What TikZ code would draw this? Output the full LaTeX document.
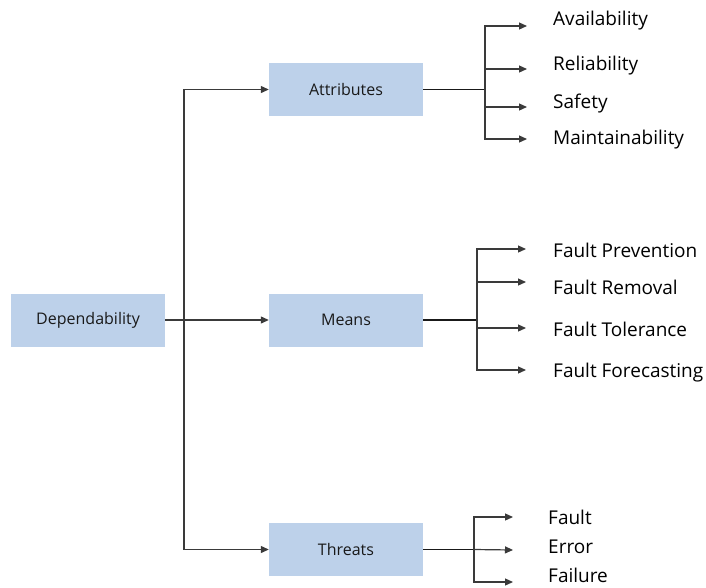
\documentclass[tikz,border=0pt]{standalone}
\usepackage{fontspec}
\setmainfont{Open Sans}
\usetikzlibrary{arrows.meta}
\definecolor{boxblue}{HTML}{BDD1EA}
\definecolor{linegray}{HTML}{3A3A3A}
\begin{document}
\begin{tikzpicture}[x=1pt,y=-1pt,
  box/.style={fill=boxblue, minimum width=154pt, minimum height=53pt, inner sep=0pt,
              font=\fontsize{16}{18}\selectfont, text=black!90},
  leaf/.style={anchor=west, inner sep=0pt, font=\fontsize{19}{21}\selectfont, text=black},
  link/.style={draw=linegray, line width=1.2pt},
  stem/.style={draw=black!90, line width=1.7pt},
  arr/.style={link, -{Triangle[length=8pt,width=7pt]}},
]
\useasboundingbox (0,0) rectangle (706,587);

% main boxes
\node[box] (dep)   at (88,320)    {Dependability};
\node[box] (att)   at (346,89.5)  {Attributes};
\node[box] (means) at (346,320)   {Means};
\node[box] (thr)   at (346,549.5) {Threats};

% trunk from Dependability
\coordinate (split) at (184,320);
\draw[arr] (dep.east) -- (means.west);
\draw[arr] (split) |- (att.west);
\draw[arr] (split) |- (thr.west);

% Attributes branch
\coordinate (ab) at (485,89.5);
\draw[stem] (att.east) -- (ab);
\coordinate (a1) at (527,26);
\coordinate (a2) at (527,69);
\coordinate (a3) at (527,107);
\coordinate (a4) at (527,139);
\draw[arr] (ab) |- (a1);
\draw[arr] (ab) |- (a2);
\draw[arr] (ab) |- (a3);
\draw[arr] (ab) |- (a4);
\node[leaf] (avail) at (553,21)  {Availability};
\node[leaf] (reli)  at (553,66)  {Reliability};
\node[leaf] (safe)  at (553,104) {Safety};
\node[leaf] (maint) at (553,140) {Maintainability};

% Means branch
\coordinate (mb) at (477,320);
\draw[stem] (means.east) -- (mb);
\coordinate (m1) at (526,249);
\coordinate (m2) at (526,282);
\coordinate (m3) at (526,328);
\coordinate (m4) at (526,370);
\draw[arr] (mb) |- (m1);
\draw[arr] (mb) |- (m2);
\draw[arr] (mb) |- (m3);
\draw[arr] (mb) |- (m4);
\node[leaf] (prev) at (553,250) {Fault Prevention};
\node[leaf] (remo) at (553,287) {Fault Removal};
\node[leaf] (tole) at (553,329) {Fault Tolerance};
\node[leaf] (fore) at (553,373) {Fault Forecasting};

% Threats branch
\coordinate (tb) at (474,549.5);
\draw[stem] (thr.east) -- (tb);
\coordinate (t1) at (513,517);
\coordinate (t2) at (513,550);
\coordinate (t3) at (513,582);
\draw[arr] (tb) |- (t1);
\draw[arr] (tb) -- (t2);
\draw[arr] (tb) |- (t3);
\node[leaf] (fault) at (548,517) {Fault};
\node[leaf] (err)   at (548,547) {Error};
\node[leaf] (fail)  at (548,575) {Failure};
\end{tikzpicture}
\end{document}
